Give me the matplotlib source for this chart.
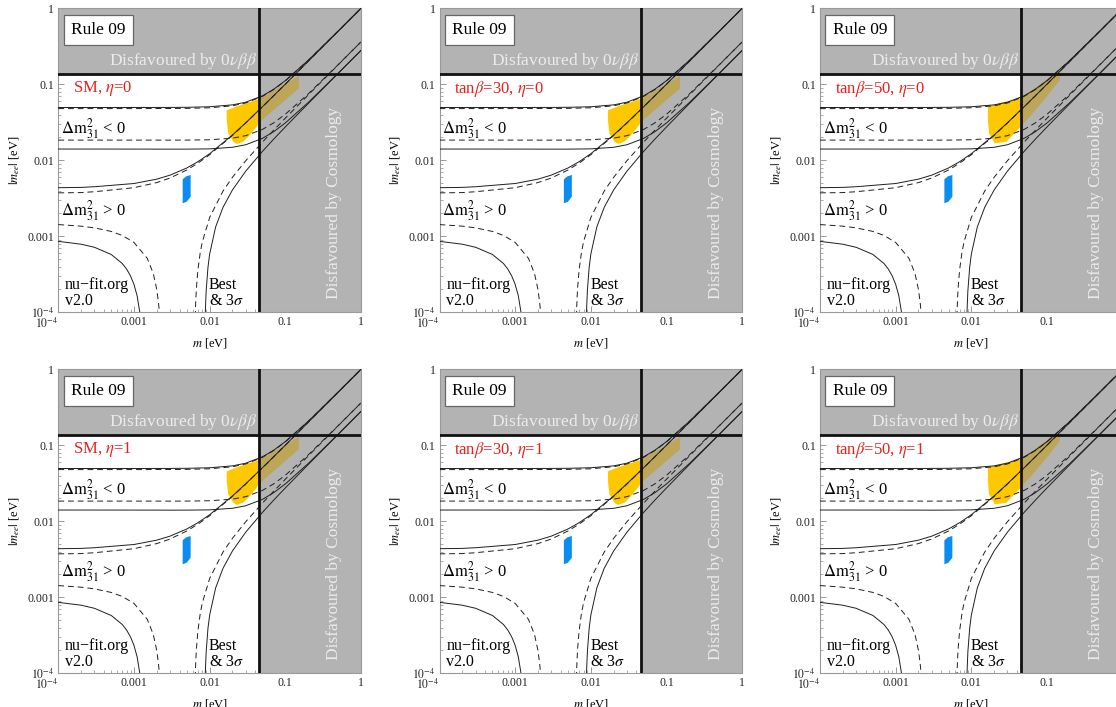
import matplotlib
matplotlib.use("Agg")
import matplotlib.pyplot as plt
from matplotlib.patches import Rectangle
from matplotlib.ticker import NullFormatter

plt.rcParams["font.family"] = ["Liberation Serif", "DejaVu Serif"]
plt.rcParams["mathtext.fontset"] = "stix"

# ---------------------------------------------------------------
# Curves (m and |m_ee| in eV)
# solid = 3 sigma envelope, dashed = best fit
# ---------------------------------------------------------------
m_no_max = [1e-4, 2e-4, 3e-4, 1e-3, 2e-3, 3e-3, 5e-3, 7e-3, 0.01, 0.02, 0.03, 0.05, 0.07, 0.1, 0.2, 0.5, 1.0]
no_max_best = [0.00373, 0.00376, 0.00386, 0.00436, 0.00509, 0.00585, 0.00746, 0.00917, 0.01184, 0.02126,
               0.03097, 0.05067, 0.07050, 0.10036, 0.20019, 0.50008, 1.0]
no_max_3s = [0.00436, 0.00440, 0.00449, 0.00495, 0.00565, 0.00638, 0.00793, 0.00959, 0.01221, 0.02152,
             0.03117, 0.05081, 0.07061, 0.10044, 0.20023, 0.50009, 1.0]

m_io = [1e-4, 1e-3, 3e-3, 5e-3, 0.01, 0.02, 0.03, 0.05, 0.07, 0.1, 0.2, 0.5, 1.0]
io_max_best = [0.04789, 0.04792, 0.04804, 0.04825, 0.04910, 0.05217, 0.05682, 0.06954, 0.08509, 0.11109, 0.20578, 0.50234, 1.00117]
io_max_3s = [0.04950, 0.04953, 0.04964, 0.04983, 0.05065, 0.05362, 0.05815, 0.07063, 0.08598, 0.11178, 0.20614, 0.50249, 1.00126]
io_min_best = [0.01845, 0.01844, 0.01843, 0.01845, 0.01863, 0.01955, 0.02109, 0.02552, 0.03104, 0.04037, 0.07451, 0.18169, 0.36204]
io_min_3s = [0.01407, 0.01405, 0.01402, 0.01403, 0.01414, 0.01483, 0.01602, 0.01947, 0.02377, 0.03101, 0.05744, 0.14025, 0.27953]

# normal ordering minimum: left branch (before the cancellation) and right branch
m_no_min_best_l = [1e-4, 2e-4, 3e-4, 5e-4, 7e-4, 1e-3, 1.5e-3, 1.8e-3, 2e-3, 2.1e-3, 2.15e-3, 2.18e-3]
no_min_best_l = [1.427e-3, 1.359e-3, 1.292e-3, 1.159e-3, 1.027e-3, 8.31e-4, 5.12e-4, 3.24e-4, 2.0e-4, 1.38e-4, 1.09e-4, 9.0e-5]
m_no_min_3s_l = [1e-4, 2e-4, 3e-4, 5e-4, 7e-4, 8e-4, 9e-4, 1e-3, 1.1e-3, 1.2e-3, 1.25e-3]
no_min_3s_l = [8.58e-4, 7.87e-4, 7.17e-4, 5.77e-4, 4.39e-4, 3.70e-4, 3.01e-4, 2.33e-4, 1.65e-4, 9.7e-5, 6.4e-5]

m_no_min_best_r = [0.0064, 0.0065, 0.0066, 0.0067, 0.007, 0.0075, 0.008, 0.01, 0.015, 0.02, 0.03, 0.05, 0.07, 0.1, 0.2, 0.5, 1.0]
no_min_best_r = [6.5e-5, 1.15e-4, 1.65e-4, 2.15e-4, 3.63e-4, 6.06e-4, 8.45e-4, 1.77e-3, 3.93e-3, 5.97e-3,
                 9.88e-3, 0.01741, 0.02481, 0.0358, 0.0721, 0.1807, 0.3616]
m_no_min_3s_r = [0.0087, 0.0088, 0.009, 0.0095, 0.01, 0.012, 0.015, 0.02, 0.03, 0.05, 0.07, 0.1, 0.2, 0.5, 1.0]
no_min_3s_r = [7.2e-5, 1.13e-4, 1.93e-4, 3.90e-4, 5.84e-4, 1.33e-3, 2.40e-3, 4.07e-3, 7.20e-3, 0.01315,
               0.01894, 0.02748, 0.05561, 0.1395, 0.2792]

# bounds
mee_0vbb = 0.137
m_cosmo = 0.0453

# predicted regions (yellow = inverted, blue = normal)
yellow_a_m = [0.0168, 0.0250, 0.0418, 0.0460, 0.151, 0.151, 0.0460, 0.0418, 0.0341, 0.0278, 0.0228, 0.0205, 0.0176, 0.0168]
yellow_a_mee = [0.0455, 0.0530, 0.0625, 0.0644, 0.1286, 0.0886, 0.0319, 0.0277, 0.0215, 0.0176, 0.0164, 0.0176, 0.0227, 0.0339]
yellow_b_m = [0.01655, 0.0250, 0.0448, 0.148, 0.148, 0.0988, 0.0652, 0.0448, 0.0292, 0.0205, 0.0171, 0.01655]
yellow_b_mee = [0.0507, 0.0575, 0.0654, 0.154, 0.114, 0.0687, 0.0419, 0.0277, 0.0176, 0.0167, 0.0227, 0.0340]
blue_m = [0.0044, 0.0049, 0.00561, 0.00561, 0.00497, 0.0044]
blue_mee = [0.00562, 0.00615, 0.00641, 0.00332, 0.00285, 0.00272]

panel_labels = ["SM, $\\eta$=0", "tan$\\beta$=30, $\\eta$=0", "tan$\\beta$=50, $\\eta$=0",
                "SM, $\\eta$=1", "tan$\\beta$=30, $\\eta$=1", "tan$\\beta$=50, $\\eta$=1"]
panel_shape = ["a", "a", "b", "a", "a", "b"]

x_ticks = [1e-4, 1e-3, 1e-2, 0.1, 1]
x_ticklabels = ["$10^{-4}$", "0.001", "0.01", "0.1", "1"]

GRAY = "#b3b3b3"
YELLOW = "#fdc800"
OLIVE = "#bea659"
BLUE = "#0a8cf0"
LINE = "#1e1e1e"
LIGHT = "#ececec"
RED = "#e8201a"

W, H = 1116, 707
fig = plt.figure(figsize=(W / 100, H / 100), dpi=100)

col_left = [58.3, 439.5, 820.0]
row_top = [8.3, 369.3]
ax_w, ax_h = 302.7, 304.0


def draw_panel(ax, label, shape):
    ax.set_xscale("log")
    ax.set_yscale("log")
    ax.set_xlim(1e-4, 1)
    ax.set_ylim(1e-4, 1)

    if shape == "a":
        pm, pv = yellow_a_m, yellow_a_mee
    else:
        pm, pv = yellow_b_m, yellow_b_mee
    ax.fill(pm, pv, color=YELLOW, lw=0, zorder=1)
    ax.fill(blue_m, blue_mee, color=BLUE, lw=0, zorder=1)

    ax.axhspan(mee_0vbb, 1, color=GRAY, lw=0, zorder=2)
    ax.axvspan(m_cosmo, 1, color=GRAY, lw=0, zorder=2)

    # part of the yellow region that lies in the excluded area
    olive = ax.fill(pm, pv, color=OLIVE, lw=0, zorder=3)[0]
    clip = Rectangle((m_cosmo, 1e-4), 1 - m_cosmo, 1 - 1e-4, transform=ax.transData)
    olive.set_clip_path(clip)

    solid = dict(color=LINE, lw=0.7, zorder=4)
    dashed = dict(color=LINE, lw=0.7, ls=(0, (6, 4)), zorder=4)
    ax.plot(m_no_max, no_max_3s, **solid)
    ax.plot(m_no_max, no_max_best, **dashed)
    ax.plot(m_io, io_max_3s, **solid)
    ax.plot(m_io, io_max_best, **dashed)
    ax.plot(m_io, io_min_3s, **solid)
    ax.plot(m_io, io_min_best, **dashed)
    ax.plot(m_no_min_3s_l, no_min_3s_l, **solid)
    ax.plot(m_no_min_best_l, no_min_best_l, **dashed)
    ax.plot(m_no_min_3s_r, no_min_3s_r, **solid)
    ax.plot(m_no_min_best_r, no_min_best_r, **dashed)

    ax.axhline(mee_0vbb, color="#111111", lw=2.0, zorder=5)
    ax.axvline(m_cosmo, color="#111111", lw=2.0, zorder=5)

    ax.text(0.132, 0.929, "Rule 09", transform=ax.transAxes, fontsize=12.5, ha="center", va="center",
            zorder=6, bbox=dict(boxstyle="square,pad=0.42", fc="white", ec="#666666", lw=0.9))
    ax.text(0.414, 0.827, "Disfavoured by 0$\\nu\\beta\\beta$", transform=ax.transAxes, fontsize=12.5,
            color=LIGHT, ha="center", va="center", zorder=6)
    ax.text(0.912, 0.36, "Disfavoured by Cosmology", transform=ax.transAxes, fontsize=12.5,
            color=LIGHT, ha="center", va="center", rotation=90, zorder=6)
    ax.text(0.049, 0.735, label, transform=ax.transAxes, fontsize=12, color=RED, ha="left", va="center", zorder=6)
    ax.text(0.009, 0.605, "$\\Delta\\mathrm{m}^2_{31}$ < 0", transform=ax.transAxes, fontsize=12,
            ha="left", va="center", zorder=6)
    ax.text(0.009, 0.336, "$\\Delta\\mathrm{m}^2_{31}$ > 0", transform=ax.transAxes, fontsize=12,
            ha="left", va="center", zorder=6)
    ax.text(0.022, 0.012, "nu\u2212fit.org\nv2.0", transform=ax.transAxes, fontsize=11.5,
            ha="left", va="bottom", linespacing=0.95, zorder=6)
    ax.text(0.498, 0.012, "Best\n& 3$\\sigma$", transform=ax.transAxes, fontsize=11.5,
            ha="left", va="bottom", linespacing=0.95, zorder=6)

    ax.set_xticks(x_ticks)
    ax.set_xticklabels(x_ticklabels)
    ax.set_yticks(x_ticks)
    ax.set_yticklabels(x_ticklabels)
    ax.get_xticklabels()[0].set_horizontalalignment("right")
    ax.xaxis.set_minor_formatter(NullFormatter())
    ax.yaxis.set_minor_formatter(NullFormatter())
    ax.tick_params(which="both", direction="in", top=True, right=True, color="#888888",
                   labelsize=8.5, labelcolor="#222222", pad=3)
    ax.tick_params(which="major", length=4, width=0.6)
    ax.tick_params(which="minor", length=2, width=0.5)
    for s in ax.spines.values():
        s.set_color("#999999")
        s.set_linewidth(0.8)

    ax.set_xlabel("$m$ [eV]", fontsize=9, labelpad=4)
    ax.set_ylabel("$|m_{ee}|$ [eV]", fontsize=9, labelpad=4)


for i, label in enumerate(panel_labels):
    r, c = divmod(i, 3)
    left = col_left[c] / W
    bottom = 1 - (row_top[r] + ax_h) / H
    ax = fig.add_axes([left, bottom, ax_w / W, ax_h / H])
    draw_panel(ax, label, panel_shape[i])

fig.savefig("out.png", dpi=100)
